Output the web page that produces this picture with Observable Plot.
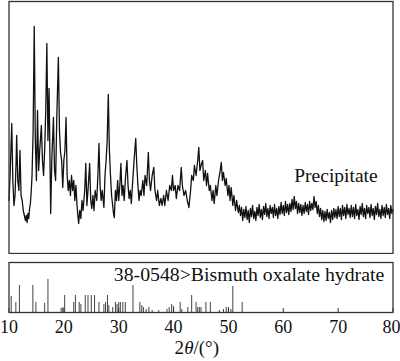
<!DOCTYPE html>
<html>
<head>
<meta charset="utf-8">
<script src="https://cdn.jsdelivr.net/npm/d3@7"></script>
<script src="https://cdn.jsdelivr.net/npm/@observablehq/plot@0.6"></script>
<style>
  html, body { margin: 0; padding: 0; background: #fff; }
  #wrap { position: relative; width: 400px; height: 361px; overflow: hidden; }
  #wrap svg { position: absolute; left: 0; font-family: 'Liberation Serif', 'Times New Roman', serif; }
</style>
</head>
<body>
<div id="wrap"></div>
<script>
// Precipitate XRD pattern: [2θ (degrees), intensity (a.u.)]
const precipitatePattern = [
[10.0,53],[10.2,78],[10.4,113],[10.5,130],[10.7,73],[10.9,48],[11.1,58],[11.3,93],[11.4,118],[11.6,73],[11.8,63],[12.0,103],[12.2,58],[12.4,53],[12.6,43],[12.8,38],[13.0,33],[13.15,38],[13.3,31],[13.45,40],[13.6,35],[13.75,45],[13.9,50],[14.05,62],[14.2,78],[14.4,123],[14.6,227],[14.8,113],[15.0,73],[15.2,143],[15.4,83],[15.6,103],[15.9,128],[16.1,93],[16.3,78],[16.5,103],[16.7,143],[16.9,210],[17.1,113],[17.3,165],[17.5,83],[17.6,40],[17.8,93],[18.1,136],[18.3,83],[18.5,73],[18.7,133],[19.0,196],[19.2,123],[19.4,101],[19.6,93],[19.8,66],[20.0,93],[20.2,103],[20.4,136],[20.6,78],[20.8,63],[21.0,73],[21.2,58],[21.4,78],[21.6,63],[21.8,73],[22.0,53],[22.2,68],[22.4,48],[22.55,38],[22.7,30],[22.9,43],[23.1,35],[23.3,53],[23.5,43],[23.8,63],[24.0,90],[24.2,48],[24.4,63],[24.7,90],[24.9,53],[25.1,45],[25.3,58],[25.5,43],[25.7,63],[26.0,53],[26.2,78],[26.4,110],[26.6,68],[26.8,53],[27.0,63],[27.3,46],[27.5,78],[27.7,93],[27.9,113],[28.1,159],[28.3,103],[28.5,78],[28.7,58],[28.9,48],[29.05,40],[29.2,36],[29.4,63],[29.6,53],[29.8,73],[30.0,53],[30.2,68],[30.4,90],[30.6,58],[30.8,68],[31.0,53],[31.2,73],[31.5,93],[31.7,68],[31.9,55],[32.1,63],[32.3,50],[32.5,68],[32.8,93],[33.1,115],[33.3,88],[33.5,68],[33.7,53],[33.9,63],[34.1,58],[34.4,73],[34.6,58],[34.8,78],[35.1,68],[35.4,101],[35.6,73],[35.8,63],[36.1,78],[36.4,86],[36.6,63],[36.9,53],[37.1,63],[37.4,48],[37.7,55],[37.9,48],[38.2,58],[38.4,48],[38.7,63],[39.0,53],[39.3,68],[39.6,63],[39.8,78],[40.0,63],[40.3,68],[40.5,55],[40.8,68],[41.1,63],[41.4,86],[41.6,68],[41.9,58],[42.2,63],[42.5,53],[42.8,46],[43.1,63],[43.3,78],[43.6,73],[43.8,88],[44.1,78],[44.4,93],[44.6,106],[44.8,83],[45.0,88],[45.3,93],[45.5,73],[45.8,83],[46.0,68],[46.2,80],[46.5,63],[46.7,68],[47.0,53],[47.2,63],[47.4,50],[47.7,68],[47.9,58],[48.2,73],[48.5,83],[48.7,91],[48.9,73],[49.1,81],[49.4,68],[49.6,75],[49.9,58],[50.1,68],[50.3,53],[50.5,66],[50.8,48],[51.0,58],[51.3,43],[51.5,53],[51.8,41],
[52.0,48],[52.2,38],[52.4,46],[52.6,33],[52.8,44],[53.0,36],[53.2,47],[53.4,34],[53.6,43],[53.8,31],[54.0,45],[54.2,37],[54.4,48],[54.6,35],[54.8,42],[55.0,33],[55.2,46],[55.4,38],[55.6,49],[55.8,36],[56.0,44],[56.2,34],[56.4,47],[56.6,39],[56.8,50],[57.0,37],[57.2,45],[57.4,35],[57.6,48],[57.8,40],[58.0,46],[58.2,36],[58.4,49],[58.6,38],[58.8,45],[59.0,35],[59.2,47],[59.4,39],[59.6,51],[59.8,40],[60.0,48],[60.2,38],[60.4,52],[60.6,41],[60.8,49],[61.0,39],[61.2,50],[61.4,42],[61.6,54],[61.8,44],[62.0,57],[62.2,45],[62.4,52],[62.6,40],[62.8,50],[63.0,41],[63.2,49],[63.4,38],[63.6,48],[63.8,40],[64.0,51],[64.2,42],[64.4,49],[64.6,39],[64.8,52],[65.0,43],[65.2,50],[65.4,44],[65.6,57],[65.8,46],[66.0,52],[66.2,40],[66.4,48],[66.6,37],[66.8,45],[67.0,34],[67.2,43],[67.4,32],[67.6,42],[67.8,33],[68.0,44],[68.2,35],[68.4,41],[68.6,31],[68.8,43],[69.0,34],[69.2,45],[69.4,36],[69.6,44],[69.8,35],[70.0,47],[70.2,37],[70.4,45],[70.6,34],[70.8,48],[71.0,38],[71.2,46],[71.4,35],[71.6,49],[71.8,39],[72.0,45],[72.2,36],[72.4,48],[72.6,37],[72.8,46],[73.0,35],[73.2,49],[73.4,38],[73.6,44],[73.8,34],[74.0,47],[74.2,39],[74.4,50],[74.6,37],[74.8,45],[75.0,35],[75.2,48],[75.4,40],[75.6,46],[75.8,36],[76.0,49],[76.2,38],[76.4,45],[76.6,34],[76.8,47],[77.0,39],[77.2,50],[77.4,37],[77.6,44],[77.8,35],[78.0,48],[78.2,38],[78.4,46],[78.6,36],[78.8,49],[79.0,39],[79.2,45],[79.4,35],[79.6,48],[79.8,40],[80.0,44]
];

// Reference pattern PDF 38-0548 (stick positions and relative heights)
const refTheta  = [10.4,11.25,11.9,14.35,14.9,16.5,17.1,19.5,19.8,20.15,21.8,22.1,22.8,23.1,23.9,24.4,25.0,25.6,26.4,27.3,27.6,27.95,28.2,28.9,29.4,29.7,30.0,30.3,30.75,31.2,32.6,33.85,34.2,34.5,35.0,35.5,36.1,37.3,38.8,39.2,39.65,40.0,41.2,41.5,42.6,43.3,44.1,44.4,44.7,45.0,45.9,46.7,48.35,49.1,49.6,50.0,50.45,50.8,52.5];
const refHeight = [16,10,27,27,10,9,33,4,5,17,10,17,10,8,17,17,17,17,10,8,10,17,7,5,10,8,10,10,10,10,27,10,7,5,3,5,2,2,3,5,8,6,10,3,5,17,10,5,5,5,10,10,2,3,5,5,3,26,10];

const xTicks = [10,20,30,40,50,60,70,80];
const sampleLabel = "Precipitate";
const refLabel = "38-0548>Bismuth oxalate hydrate";

const precip = precipitatePattern.map(([t, v]) => ({theta: t, I: v}));
const sticks = refTheta.map((t, i) => ({theta: t, h: refHeight[i]}));

const serif = "'Liberation Serif', 'Times New Roman', serif";
const xDomain = [10, 80];

const topPanel = Plot.plot({
  width: 400, height: 254,
  marginLeft: 8.5, marginRight: 7.5, marginTop: 1, marginBottom: 1,
  x: {domain: xDomain, axis: null},
  y: {domain: [0, 252], axis: null},
  style: {fontFamily: serif, background: "transparent"},
  marks: [
    Plot.line(precip, {x: "theta", y: "I", stroke: "#111", strokeWidth: 1.3}),
    Plot.text([sampleLabel], {x: 62, y: 72, text: d => d, textAnchor: "start", lineAnchor: "bottom", fontSize: 19.5, fill: "#111", fontFamily: serif}),
    Plot.frame({stroke: "#333", strokeWidth: 1.3})
  ]
});
topPanel.style.top = "0px";

const labelStyle = {frameAnchor: "bottom", text: d => d, dy: 41, fontSize: 19, fill: "#111", lineAnchor: "bottom", fontFamily: serif};
const tickLabelStyle = {x: d => d, text: d => String(d), frameAnchor: "bottom", lineAnchor: "top", dy: 8, fontSize: 18, fill: "#111", fontFamily: serif};
const lastTick = xTicks[xTicks.length - 1];

const bottomPanel = Plot.plot({
  width: 400, height: 107,
  marginLeft: 8.5, marginRight: 7.5, marginTop: 8, marginBottom: 49,
  x: {domain: xDomain, axis: null},
  y: {domain: [0, 50], axis: null},
  style: {fontFamily: serif, background: "transparent", overflow: "visible"},
  marks: [
    Plot.ruleX(sticks, {x: "theta", y1: 0, y2: "h", stroke: "#444", strokeWidth: 1}),
    Plot.ruleX(xTicks, {x: d => d, y1: 0, y2: 4, stroke: "#333", strokeWidth: 1}),
    Plot.text(xTicks.filter(t => t !== lastTick), {...tickLabelStyle, textAnchor: "middle"}),
    Plot.text([lastTick], {...tickLabelStyle, textAnchor: "end", dx: 7.5}),
    Plot.text([refLabel], {x: 29.1, y: 32, text: d => d, textAnchor: "start", lineAnchor: "bottom", fontSize: 19.8, fill: "#111", fontFamily: serif}),
    Plot.text(["2"], {...labelStyle, textAnchor: "end", dx: -17}),
    Plot.text(["θ"], {...labelStyle, textAnchor: "end", dx: -7.5, fontStyle: "italic"}),
    Plot.text(["/(°)"], {...labelStyle, textAnchor: "start", dx: -7.5}),
    Plot.frame({stroke: "#333", strokeWidth: 1.3})
  ]
});
bottomPanel.style.top = "254px";

document.getElementById("wrap").append(topPanel, bottomPanel);
</script>
</body>
</html>
